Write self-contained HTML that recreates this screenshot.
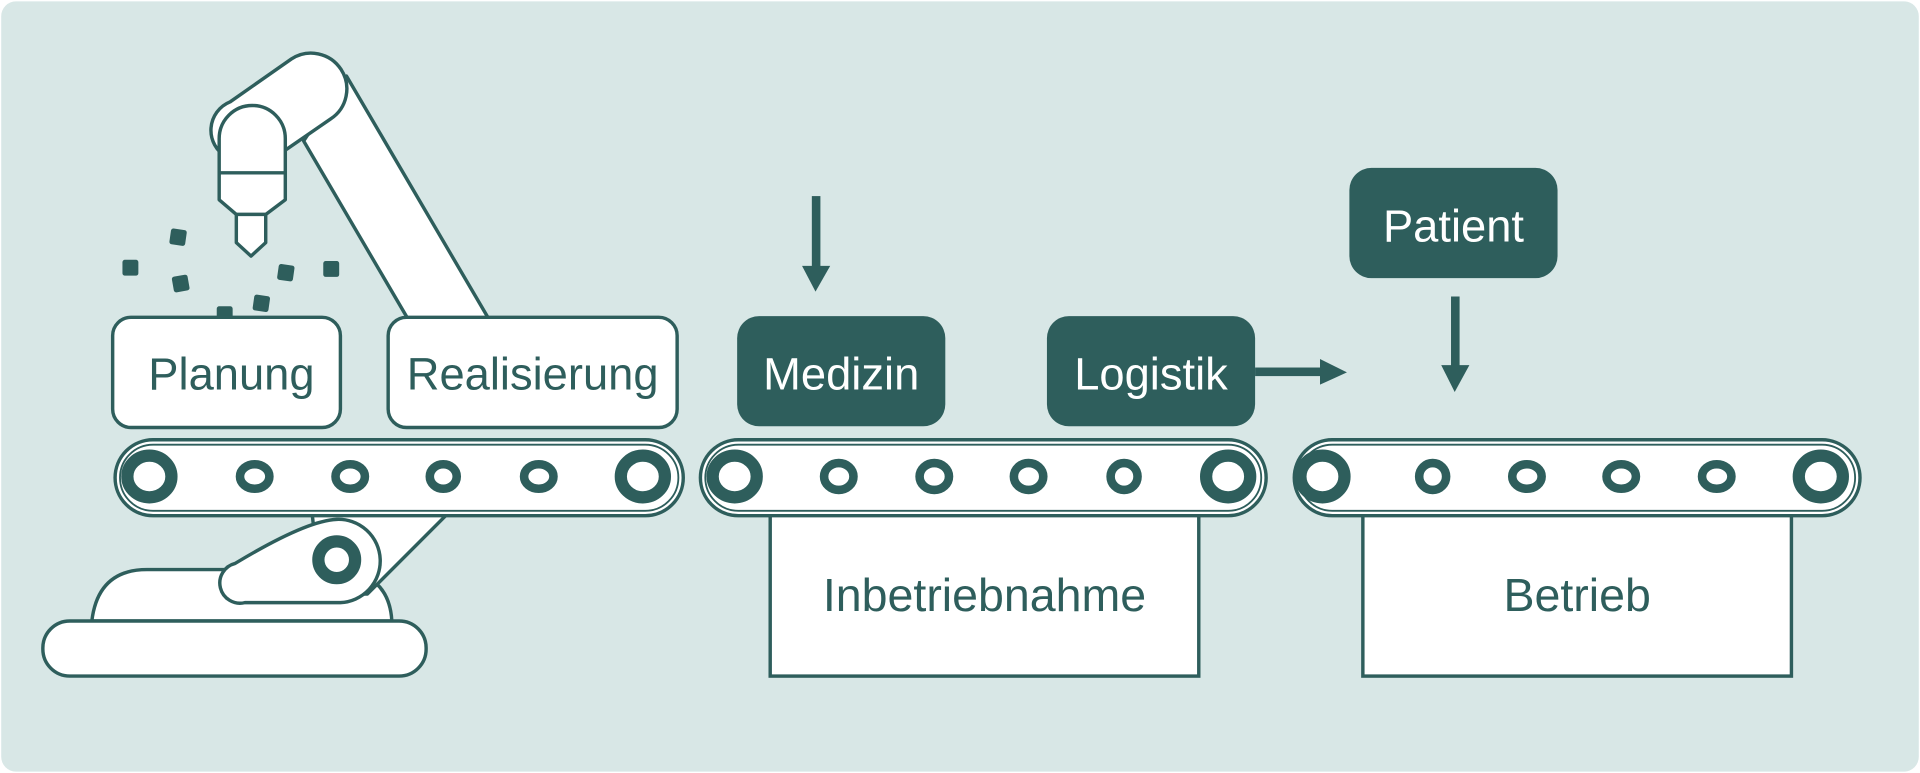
<!DOCTYPE html>
<html><head><meta charset="utf-8"><style>
html,body{margin:0;padding:0;background:#fff;}
svg{display:block;}
text{font-family:"Liberation Sans",sans-serif;}
</style></head><body>
<svg width="1920" height="773" viewBox="0 0 1568 631" xmlns="http://www.w3.org/2000/svg">
<rect x="1" y="1" width="1566" height="629" rx="12" fill="#d8e7e6"/>
<g stroke="#2e5e5c" stroke-width="2.8" fill="#fff" stroke-linejoin="round">
<!-- base -->
<path d="M75 507 Q80 465 120 465 L280 465 Q318 470 320 507 Z"/>
<rect x="35" y="507" width="313" height="45" rx="22"/>
<!-- upper long arm -->
<polygon points="248,115 283,62 440,330 374,330"/>
<!-- lower arm -->
<polygon points="255,420 365,420 300,485 262,485"/>
<!-- elbow -->
<path d="M192 460 Q250 425 275 424 A33 33 0 0 1 278 492 L200 492 A16 16 0 0 1 192 460 Z"/>
<!-- forearm -->
<path d="M188 83 L238 48 A25 25 0 0 1 270 97 L225 128 L185 128 A25 25 0 0 1 188 83 Z"/>
<!-- head -->
<path d="M179 113 A27 27 0 0 1 233 113 L233 163 L217 175 L193 175 L179 163 Z"/>
<line x1="179" y1="141" x2="233" y2="141"/>
<path d="M193 175 L217 175 L217 198 L205 209 L193 198 Z"/>
</g>
<g fill="#2e5e5c">
<rect x="139" y="187" width="13" height="13" rx="2" transform="rotate(8 145 193)"/>
<rect x="100" y="212" width="13" height="13" rx="2"/>
<rect x="141" y="225" width="13" height="13" rx="2" transform="rotate(-10 147 231)"/>
<rect x="227" y="216" width="13" height="13" rx="2" transform="rotate(8 233 222)"/>
<rect x="264" y="213" width="13" height="13" rx="2"/>
<rect x="177" y="250" width="13" height="10" rx="2"/>
<rect x="207" y="241" width="13" height="13" rx="2" transform="rotate(8 213 247)"/>
</g>
<g stroke="#2e5e5c" stroke-width="2.8" fill="#fff">
<rect x="92" y="259" width="186" height="90" rx="15"/>
<rect x="317" y="259" width="236" height="90" rx="15"/>
</g>
<text x="189" y="318" font-size="37" fill="#2e5e5c" text-anchor="middle">Planung</text>
<text x="435" y="318" font-size="37" fill="#2e5e5c" text-anchor="middle">Realisierung</text>

<g stroke="#2e5e5c" stroke-width="2.8" fill="#fff">
<rect x="629" y="410" width="350" height="142"/>
<rect x="1113" y="410" width="350" height="142"/>
</g>
<text x="804" y="499" font-size="38" fill="#2e5e5c" text-anchor="middle">Inbetriebnahme</text>
<text x="1288" y="499" font-size="38" fill="#2e5e5c" text-anchor="middle">Betrieb</text>

<g stroke="#2e5e5c" fill="#fff">
<rect x="94" y="359" width="464" height="62" rx="31" stroke-width="2.8"/>
<rect x="98" y="363" width="456" height="54" rx="27" stroke-width="1.5"/>
<rect x="572" y="359" width="462" height="62" rx="31" stroke-width="2.8"/>
<rect x="576" y="363" width="454" height="54" rx="27" stroke-width="1.5"/>
<rect x="1057" y="359" width="462" height="62" rx="31" stroke-width="2.8"/>
<rect x="1061" y="363" width="454" height="54" rx="27" stroke-width="1.5"/>
</g>
<g fill="#fff" stroke="#2e5e5c">
<g stroke-width="10">
<ellipse cx="122" cy="389" rx="18" ry="17"/><ellipse cx="525" cy="389" rx="18" ry="17"/>
<ellipse cx="600" cy="389" rx="18" ry="17"/><ellipse cx="1003" cy="389" rx="18" ry="17"/>
<ellipse cx="1080" cy="389" rx="18" ry="17"/><ellipse cx="1487" cy="389" rx="18" ry="17"/>
</g>
<g stroke-width="7">
<ellipse cx="208" cy="389" rx="12" ry="10"/><ellipse cx="286" cy="389" rx="12" ry="10"/>
<ellipse cx="362" cy="389" rx="11" ry="10"/><ellipse cx="440" cy="389" rx="12" ry="10"/>
<ellipse cx="685" cy="389" rx="12" ry="11"/><ellipse cx="763" cy="389" rx="12" ry="11"/>
<ellipse cx="840" cy="389" rx="12" ry="11"/><ellipse cx="918" cy="389" rx="11" ry="11"/>
<ellipse cx="1170" cy="389" rx="11" ry="11"/><ellipse cx="1247" cy="389" rx="12" ry="10"/>
<ellipse cx="1324" cy="389" rx="12" ry="10"/><ellipse cx="1402" cy="389" rx="12" ry="10"/>
</g>
<circle cx="275" cy="457" r="15" stroke-width="10"/>
</g>

<g fill="#2e5e5c">
<rect x="602" y="258" width="170" height="90" rx="18"/>
<rect x="855" y="258" width="170" height="90" rx="18"/>
<rect x="1102" y="137" width="170" height="90" rx="18"/>
<rect x="663" y="160" width="7" height="58"/><polygon points="655,217 678,217 666,238"/>
<rect x="1025" y="300" width="55" height="7"/><polygon points="1078,293 1078,314 1100,304"/>
<rect x="1185" y="242" width="7" height="58"/><polygon points="1177,298 1200,298 1188,320"/>
</g>
<text x="687" y="318" font-size="37" fill="#fff" text-anchor="middle">Medizin</text>
<text x="940" y="318" font-size="37" fill="#fff" text-anchor="middle">Logistik</text>
<text x="1187" y="197" font-size="37" fill="#fff" text-anchor="middle">Patient</text>
</svg>
</body></html>
